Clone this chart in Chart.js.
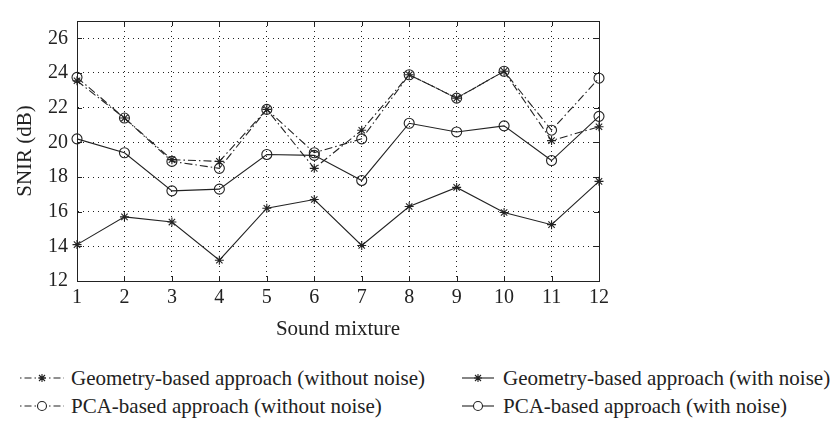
<!DOCTYPE html>
<html>
<head>
<meta charset="utf-8">
<script src="https://cdn.jsdelivr.net/npm/chart.js@4.4.1/dist/chart.umd.min.js"></script>
<style>
  body { margin: 0; background: #fff; }
  #wrap { position: relative; width: 839px; height: 421px; font-family: "Liberation Serif", "DejaVu Serif", serif; color: #222; }
  #box { position: absolute; left: 0; top: 0; width: 839px; height: 345px; }
  .leg { position: absolute; font-size: 21px; line-height: 24px; white-space: nowrap; }
  .leg svg { position: absolute; top: 0; }
  .leg span { position: absolute; top: 0; }
</style>
</head>
<body>
<div id="wrap">
  <div id="box"><canvas id="mycanvas"></canvas></div>
  <div id="legend"></div>
</div>
<script>
var mixtures = ['1', '2', '3', '4', '5', '6', '7', '8', '9', '10', '11', '12'];
var geoNoNoise = [23.55, 21.4, 19.0, 18.9, 21.9, 18.5, 20.7, 23.9, 22.55, 24.1, 20.1, 20.9];
var pcaNoNoise = [23.75, 21.4, 18.9, 18.5, 21.9, 19.4, 20.2, 23.9, 22.55, 24.1, 20.7, 23.7];
var geoNoise = [14.1, 15.7, 15.4, 13.2, 16.2, 16.7, 14.05, 16.3, 17.4, 15.95, 15.25, 17.75];
var pcaNoise = [20.2, 19.4, 17.2, 17.3, 19.3, 19.25, 17.8, 21.1, 20.6, 20.95, 18.95, 21.5];
var yTicks = [12, 14, 16, 18, 20, 22, 24, 26];

var ink = '#222';
var dashDot = [8, 3, 1.5, 3];

function series(label, data, style, dash) {
  return {
    label: label,
    data: data,
    borderColor: ink,
    borderWidth: 1.1,
    borderDash: dash,
    pointStyle: style,
    pointRadius: style == 'star' ? 4.5 : 5,
    pointBorderWidth: 1.1,
    pointBorderColor: ink,
    pointBackgroundColor: 'rgba(0,0,0,0)',
    tension: 0,
    clip: false
  };
}

// box round the plot and the small inward ticks on all sides
var frame = {
  id: 'frame',
  beforeDatasetsDraw: function(chart) {
    var ctx = chart.ctx, a = chart.chartArea, x = chart.scales.x, y = chart.scales.y;
    ctx.save();
    ctx.strokeStyle = ink;
    ctx.lineWidth = 1;
    ctx.setLineDash([]);
    ctx.strokeRect(Math.round(a.left) + .5, Math.round(a.top) + .5, Math.round(a.right - a.left), Math.round(a.bottom - a.top));
    ctx.beginPath();
    for (var i = 0; i < x.ticks.length; i++) {
      var px = Math.round(x.getPixelForTick(i)) + .5;
      ctx.moveTo(px, a.bottom); ctx.lineTo(px, a.bottom - 5);
      ctx.moveTo(px, a.top); ctx.lineTo(px, a.top + 5);
    }
    for (var j = 0; j < y.ticks.length; j++) {
      var py = Math.round(y.getPixelForTick(j)) + .5;
      ctx.moveTo(a.left, py); ctx.lineTo(a.left + 5, py);
      ctx.moveTo(a.right, py); ctx.lineTo(a.right - 5, py);
    }
    ctx.stroke();
    ctx.restore();
  }
};

var tickFont = { family: '"Liberation Serif", serif', size: 20 };
var titleFont = { family: '"Liberation Serif", serif', size: 21 };

var chart = new Chart(document.getElementById('mycanvas'), {
  type: 'line',
  data: {
    labels: mixtures,
    datasets: [
      series('Geometry-based approach (without noise)', geoNoNoise, 'star', dashDot),
      series('PCA-based approach (without noise)', pcaNoNoise, 'circle', dashDot),
      series('Geometry-based approach (with noise)', geoNoise, 'star', []),
      series('PCA-based approach (with noise)', pcaNoise, 'circle', [])
    ]
  },
  options: {
    responsive: true,
    maintainAspectRatio: false,
    animation: false,
    layout: { padding: { top: 6, right: 240, left: 0, bottom: 0 } },
    plugins: { legend: { display: false }, tooltip: { enabled: false } },
    scales: {
      x: {
        grid: { color: ink, lineWidth: 1, drawTicks: false },
        border: { display: true, color: ink, width: 1, dash: [1, 4] },
        ticks: { color: ink, font: tickFont, padding: 5, maxRotation: 0, autoSkip: false },
        title: { display: true, text: 'Sound mixture', color: ink, font: titleFont, padding: { top: 0, bottom: 3 } },
        afterFit: function(s) { s.height = 64; }
      },
      y: {
        min: 12,
        max: 27,
        grid: { color: ink, lineWidth: 1, drawTicks: false },
        border: { display: true, color: ink, width: 1, dash: [1, 4] },
        ticks: { color: ink, font: tickFont, padding: 9, stepSize: 2 },
        afterBuildTicks: function(s) {
          s.ticks = yTicks.map(function(v) { return { value: v }; });
        },
        title: { display: true, text: 'SNIR (dB)', color: ink, font: titleFont, padding: { top: 13, bottom: 0 } },
        afterFit: function(s) { s.width = 77; }
      }
    }
  },
  plugins: [frame]
});

// legend below the chart, two columns like the figure
var legendItems = [
  { text: 'Geometry-based approach (without noise)', mark: 'star', dashed: true, x: 20, y: 366 },
  { text: 'Geometry-based approach (with noise)', mark: 'star', dashed: false, x: 462, y: 366 },
  { text: 'PCA-based approach (without noise)', mark: 'circle', dashed: true, x: 20, y: 394 },
  { text: 'PCA-based approach (with noise)', mark: 'circle', dashed: false, x: 462, y: 394 }
];

function sampleSvg(item) {
  var w = item.dashed ? 44 : 32, c = w / 2, m = 12;
  var s = '<svg width="' + w + '" height="24" style="left:0">';
  if (item.dashed) {
    s += '<line x1="0" y1="' + m + '" x2="' + w + '" y2="' + m + '" stroke="' + ink + '" stroke-width="1.1" stroke-dasharray="1.5,3,7,3"/>';
  } else {
    s += '<line x1="0" y1="' + m + '" x2="' + w + '" y2="' + m + '" stroke="' + ink + '" stroke-width="1.1"/>';
  }
  if (item.mark == 'star') {
    s += '<path d="M' + (c - 4) + ' ' + m + 'H' + (c + 4) + 'M' + c + ' ' + (m - 4) + 'V' + (m + 4) +
      'M' + (c - 3) + ' ' + (m - 3) + 'L' + (c + 3) + ' ' + (m + 3) + 'M' + (c - 3) + ' ' + (m + 3) + 'L' + (c + 3) + ' ' + (m - 3) +
      '" stroke="' + ink + '" stroke-width="1.1"/>';
  } else {
    s += '<circle cx="' + c + '" cy="' + m + '" r="4.5" fill="#fff" stroke="' + ink + '" stroke-width="1.1"/>';
  }
  return s + '</svg>';
}

var html = '';
legendItems.forEach(function(item) {
  var off = item.dashed ? 51 : 41;
  html += '<div class="leg" style="left:' + item.x + 'px;top:' + item.y + 'px">' + sampleSvg(item) +
    '<span style="left:' + off + 'px">' + item.text + '</span></div>';
});
document.getElementById('legend').innerHTML = html;
</script>
</body>
</html>
